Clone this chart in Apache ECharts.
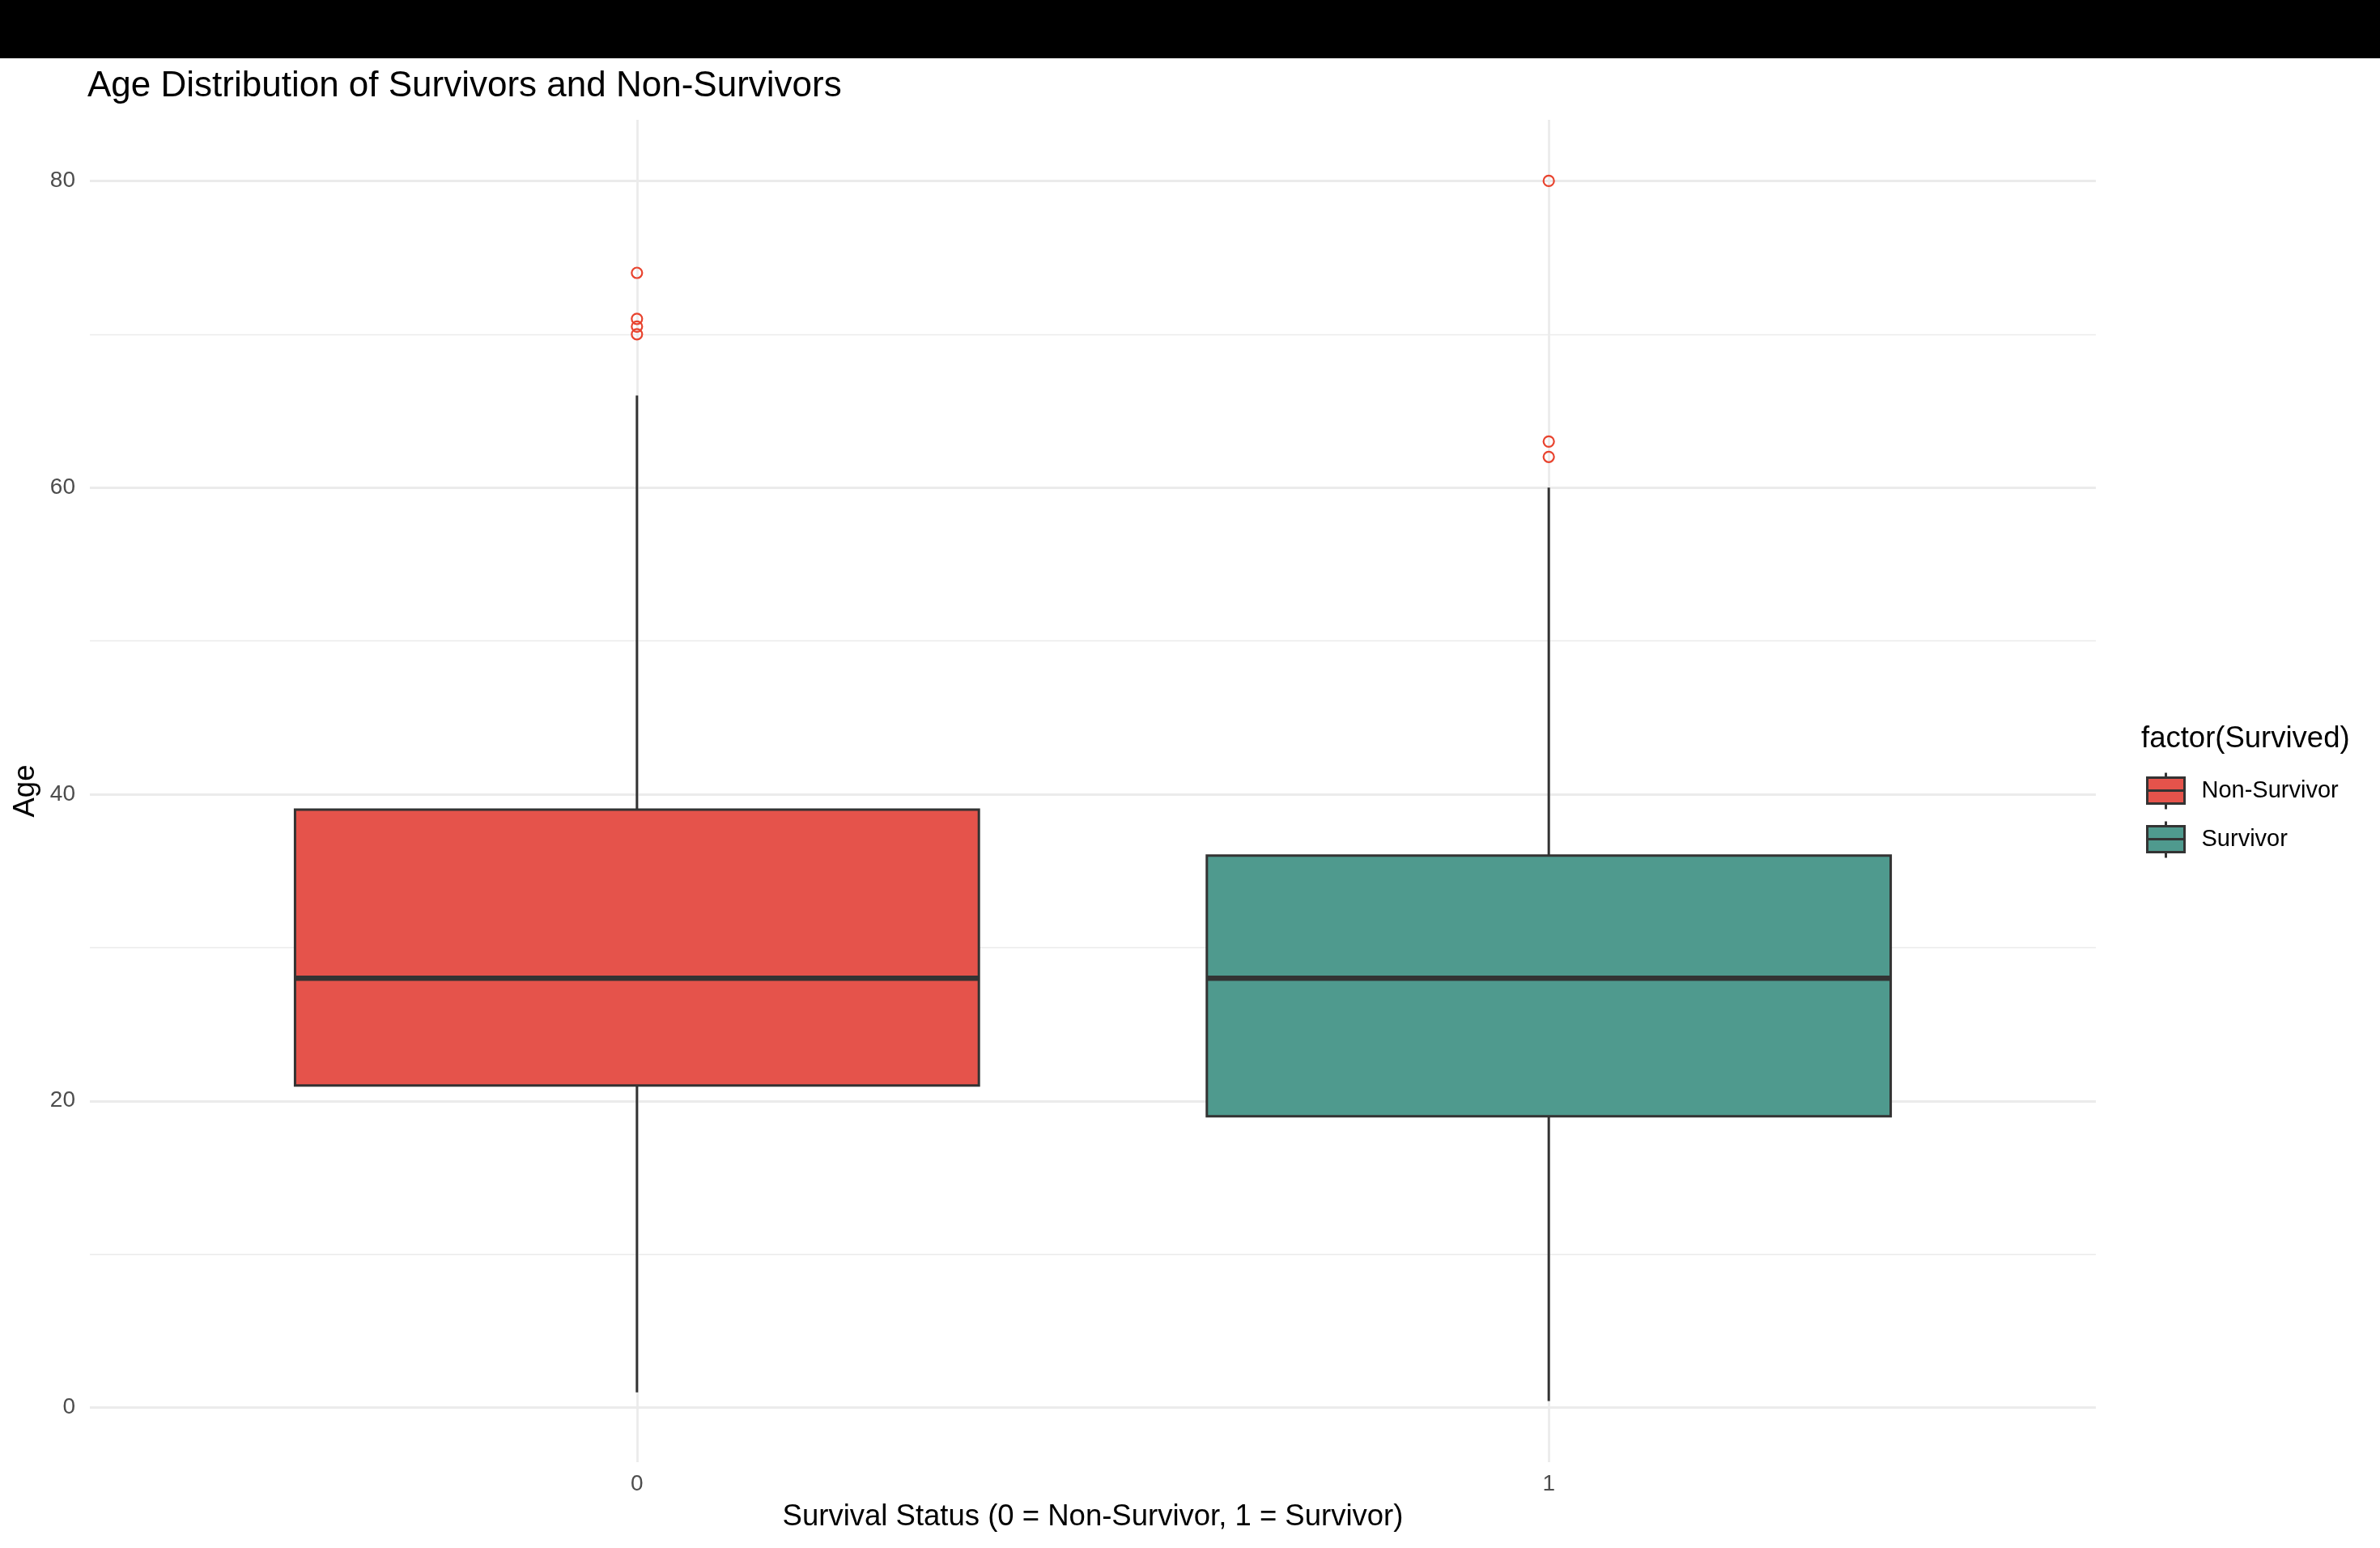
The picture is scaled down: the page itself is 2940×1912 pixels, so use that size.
<!DOCTYPE html>
<html>
<head>
<meta charset="utf-8">
<title>Age Distribution of Survivors and Non-Survivors</title>
<script src="https://cdn.jsdelivr.net/npm/echarts@6/dist/echarts.min.js"></script>
<style>
  html, body { margin: 0; padding: 0; background: #ffffff; }
  #chart { width: 2940px; height: 1912px; }
</style>
</head>
<body>
<div id="chart"></div>
<script>
// groups on the x axis (Survived = 0 / 1)
const groupPos = [0, 1]
const groupLabels = ['0', '1']
const groupNames = ['Non-Survivor', 'Survivor']
const groupColors = ['#E5534B', '#4F9A8E']

// box statistics per group
const whiskerLow = [1, 0.42]
const q1 = [21, 19]
const median = [28, 28]
const q3 = [39, 36]
const whiskerHigh = [66, 60]

// points beyond the whiskers
const outliersNonSurvivor = [70, 70.5, 71, 74]
const outliersSurvivor = [62, 63, 80]

// axis ticks
const yMajorTicks = [0, 20, 40, 60, 80]
const yMinorTicks = [10, 30, 50, 70]

const FONT = 'Liberation Sans'
const BOX_WIDTH = 0.75

function renderBox(params, api) {
  const x = api.value(0)
  const halfW = api.size([BOX_WIDTH, 0])[0] / 2
  const pLo = api.coord([x, api.value(1)])
  const pQ1 = api.coord([x, api.value(2)])
  const pMed = api.coord([x, api.value(3)])
  const pQ3 = api.coord([x, api.value(4)])
  const pHi = api.coord([x, api.value(5)])
  const color = api.visual('color')
  const lineStyle = { stroke: '#333333', lineWidth: 3 }
  return {
    type: 'group',
    children: [
      { type: 'line', shape: { x1: pHi[0], y1: pHi[1], x2: pQ3[0], y2: pQ3[1] }, style: lineStyle },
      { type: 'line', shape: { x1: pQ1[0], y1: pQ1[1], x2: pLo[0], y2: pLo[1] }, style: lineStyle },
      {
        type: 'rect',
        shape: { x: pQ3[0] - halfW, y: pQ3[1], width: halfW * 2, height: pQ1[1] - pQ3[1] },
        style: { fill: color, stroke: '#333333', lineWidth: 3 }
      },
      {
        type: 'line',
        shape: { x1: pMed[0] - halfW, y1: pMed[1], x2: pMed[0] + halfW, y2: pMed[1] },
        style: { stroke: '#333333', lineWidth: 6.5 }
      }
    ]
  }
}

const boxSeries = groupNames.map((name, i) => ({
  name: name,
  type: 'custom',
  xAxisIndex: 0,
  yAxisIndex: 0,
  itemStyle: { color: groupColors[i] },
  renderItem: renderBox,
  encode: { x: 0, y: [1, 2, 3, 4, 5] },
  data: [[groupPos[i], whiskerLow[i], q1[i], median[i], q3[i], whiskerHigh[i]]],
  z: 2
}))

const outlierData = outliersNonSurvivor.map(v => [groupPos[0], v])
  .concat(outliersSurvivor.map(v => [groupPos[1], v]))

const legendIcon = 'path://M0,6 L46,6 L46,38 L0,38 Z M0,22 L46,22 M23,0 L23,6 M23,38 L23,45'

const option = {
  backgroundColor: '#ffffff',
  animation: false,
  graphic: [{
    type: 'rect',
    left: 0,
    top: 0,
    shape: { width: 2940, height: 72 },
    style: { fill: '#000000' },
    z: 10
  }],
  title: [{
    text: 'Age Distribution of Survivors and Non-Survivors',
    left: 108,
    top: 85,
    padding: 0,
    textStyle: { fontFamily: FONT, fontSize: 44, fontWeight: 'normal', color: '#000000' }
  }, {
    text: 'factor(Survived)',
    left: 2645,
    top: 894,
    padding: 0,
    textStyle: { fontFamily: FONT, fontSize: 36.5, fontWeight: 'normal', color: '#000000' }
  }],
  legend: {
    orient: 'vertical',
    left: 2651,
    top: 953,
    padding: 0,
    itemWidth: 46,
    itemHeight: 45,
    itemGap: 12,
    selectedMode: false,
    textStyle: { fontFamily: FONT, fontSize: 29, color: '#000000', padding: [0, 0, 0, 16] },
    data: groupNames.map((name, i) => ({
      name: name,
      icon: legendIcon,
      itemStyle: { color: groupColors[i], borderColor: '#333333', borderWidth: 3 }
    }))
  },
  grid: {
    left: 111,
    right: 2940 - 2589,
    top: 148,
    bottom: 1912 - 1806,
    containLabel: false
  },
  xAxis: {
    type: 'value',
    min: -0.6,
    max: 1.6,
    name: 'Survival Status (0 = Non-Survivor, 1 = Survivor)',
    nameLocation: 'middle',
    nameGap: 49,
    nameTextStyle: { fontFamily: FONT, fontSize: 36.5, color: '#000000' },
    axisLine: { show: false },
    axisTick: { show: false, customValues: groupPos },
    axisLabel: {
      customValues: groupPos,
      margin: 13,
      fontFamily: FONT,
      fontSize: 28,
      color: '#4D4D4D',
      formatter: v => groupLabels[groupPos.indexOf(v)]
    },
    splitLine: { show: true, lineStyle: { color: '#EBEBEB', width: 2.8 } }
  },
  yAxis: [{
    type: 'value',
    min: -3.56,
    max: 83.98,
    name: 'Age',
    nameLocation: 'middle',
    nameGap: 61,
    nameRotate: 90,
    nameTextStyle: { fontFamily: FONT, fontSize: 36.5, color: '#000000' },
    axisLine: { show: false },
    axisTick: { show: false, customValues: yMajorTicks },
    axisLabel: {
      customValues: yMajorTicks,
      margin: 18,
      fontFamily: FONT,
      fontSize: 28,
      color: '#4D4D4D'
    },
    splitLine: { show: true, lineStyle: { color: '#EBEBEB', width: 2.8 } }
  }, {
    type: 'value',
    position: 'left',
    min: -3.56,
    max: 83.98,
    axisLine: { show: false },
    axisTick: { show: false, customValues: yMinorTicks },
    axisLabel: { show: false, customValues: yMinorTicks },
    splitLine: { show: true, lineStyle: { color: '#EBEBEB', width: 1.4 } }
  }],
  series: boxSeries.concat([{
    name: 'outliers',
    type: 'scatter',
    xAxisIndex: 0,
    yAxisIndex: 0,
    symbol: 'circle',
    symbolSize: 13,
    itemStyle: { color: 'rgba(255,255,255,0)', borderColor: '#E8432E', borderWidth: 2.2, opacity: 1 },
    data: outlierData,
    z: 3
  }])
}

const chart = echarts.init(document.getElementById('chart'))
chart.setOption(option)
</script>
</body>
</html>
